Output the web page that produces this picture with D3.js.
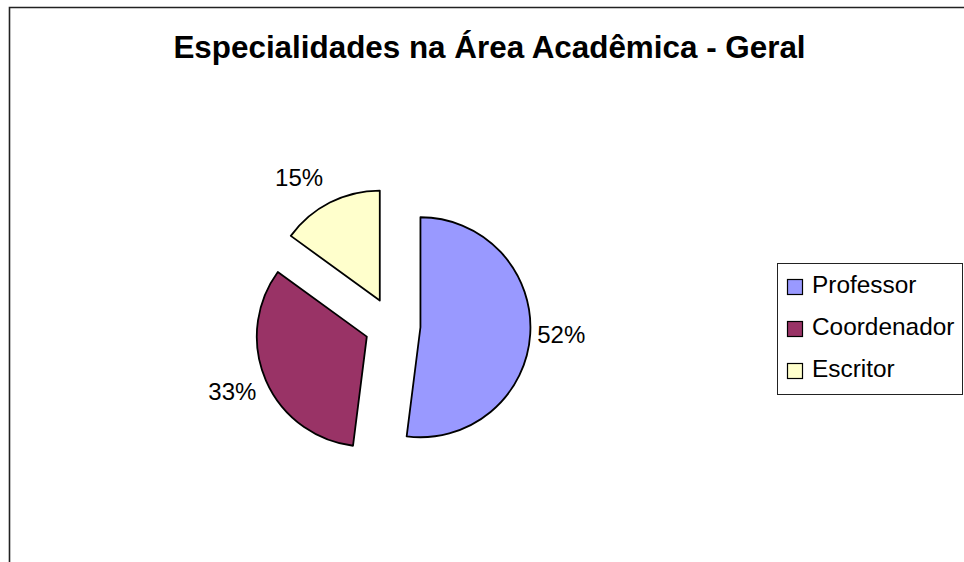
<!DOCTYPE html>
<html>
<head>
<meta charset="utf-8">
<script src="https://cdn.jsdelivr.net/npm/d3@7"></script>
<style>
  body { margin: 0; background: #fff; }
  svg { display: block; font-family: Arial, "Liberation Sans", sans-serif; }
</style>
</head>
<body>
<div id="chart"></div>
<script>
// chart data
const categories = ["Professor", "Coordenador", "Escritor"];
const values = [52, 33, 15];
const colors = ["#9999FF", "#993366", "#FFFFCC"];
const title = "Especialidades na Área Acadêmica - Geral";

const width = 964, height = 562;
const cx = 392.5, cy = 325.5, radius = 110, explode = 28;

const svg = d3.select("#chart").append("svg")
    .attr("width", width)
    .attr("height", height);

// chart area frame (only top and left edges are visible in the crop)
svg.append("path")
    .attr("d", "M9.5,562 V7.5 H964")
    .attr("fill", "none")
    .attr("stroke", "#222")
    .attr("stroke-width", 1.6);

svg.append("text")
    .attr("x", 489.5)
    .attr("y", 58)
    .attr("text-anchor", "middle")
    .style("font-size", "31.4px")
    .style("font-weight", "bold")
    .text(title);

const data = categories.map((c, i) => ({ name: c, value: values[i], color: colors[i] }));

const pie = d3.pie().sort(null).value(d => d.value);
const arc = d3.arc().innerRadius(0).outerRadius(radius);
const total = d3.sum(values);

const slices = svg.append("g")
    .attr("transform", `translate(${cx},${cy})`)
    .selectAll("g")
    .data(pie(data))
    .enter().append("g")
    .attr("transform", d => {
        const mid = (d.startAngle + d.endAngle) / 2;
        return `translate(${Math.sin(mid) * explode},${-Math.cos(mid) * explode})`;
    });

slices.append("path")
    .attr("d", arc)
    .attr("fill", d => d.data.color)
    .attr("stroke", "#000")
    .attr("stroke-width", 1.8)
    .attr("stroke-linejoin", "round");

// percentage labels just outside each slice
slices.append("text")
    .each(function (d) {
        const mid = (d.startAngle + d.endAngle) / 2;
        const dx = Math.sin(mid), dy = -Math.cos(mid);
        const px = dx * (radius + 6), py = dy * (radius + 6);
        let anchor = "middle", by = py + 8;
        if (dx > 0.3) anchor = "start";
        else if (dx < -0.3) anchor = "end";
        if (dy > 0.3) by = py + 17;
        else if (dy < -0.3) by = py - 11;
        d3.select(this)
            .attr("x", anchor === "end" ? px - 4 : px + 1)
            .attr("y", by)
            .attr("text-anchor", anchor);
    })
    .style("font-size", "24px")
    .attr("fill", "#000")
    .text(d => Math.round(d.value / total * 100) + "%");

// legend
const legend = svg.append("g");
legend.append("rect")
    .attr("x", 777.5)
    .attr("y", 263.5)
    .attr("width", 185)
    .attr("height", 131)
    .attr("fill", "#fff")
    .attr("stroke", "#222")
    .attr("stroke-width", 1);

const rowY = d3.scalePoint().domain(categories).range([293, 377]);

const rows = legend.selectAll(".row")
    .data(data)
    .enter().append("g")
    .attr("class", "row");

rows.append("rect")
    .attr("x", 787.5)
    .attr("y", d => rowY(d.name) - 13.5)
    .attr("width", 15)
    .attr("height", 15)
    .attr("fill", d => d.color)
    .attr("stroke", "#000")
    .attr("stroke-width", 1.2);

rows.append("text")
    .attr("x", 812)
    .attr("y", d => rowY(d.name))
    .style("font-size", "24.4px")
    .text(d => d.name);
</script>
</body>
</html>
